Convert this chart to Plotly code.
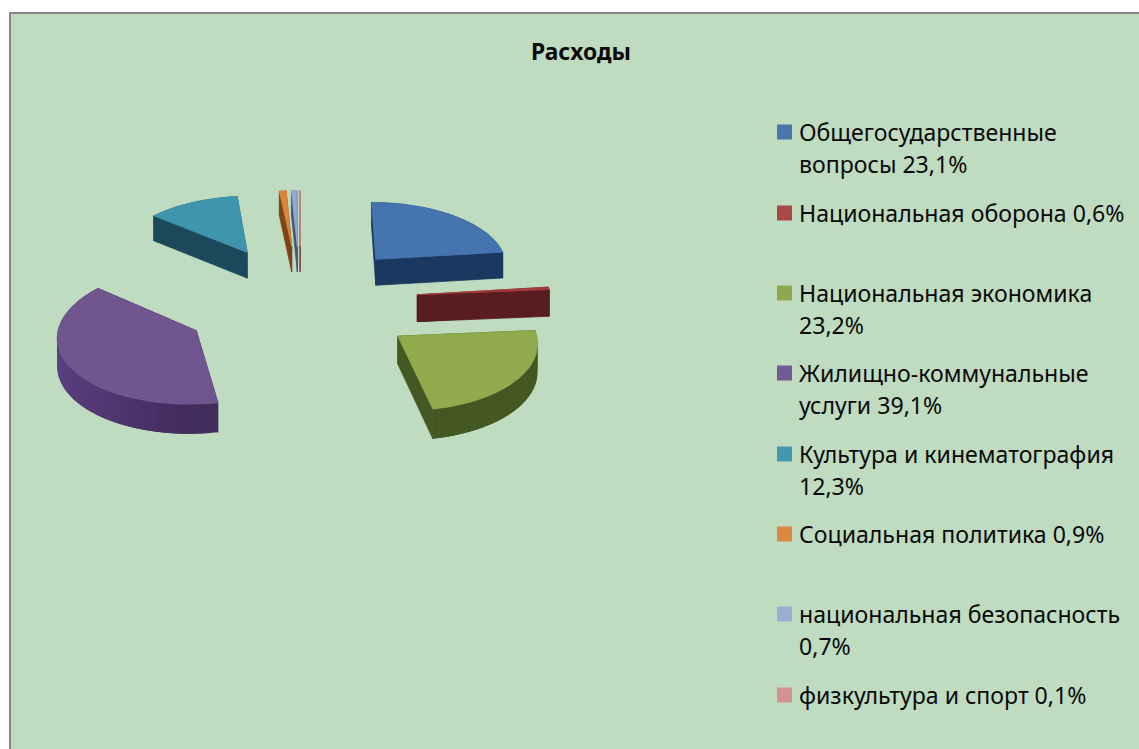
import numpy as np
import plotly.graph_objects as go

# ---- data ----
categories = ["Общегосударственные вопросы", "Национальная оборона", "Национальная экономика",
              "Жилищно-коммунальные услуги", "Культура и кинематография", "Социальная политика",
              "национальная безопасность", "физкультура и спорт"]
values = [23.1, 0.6, 23.2, 39.1, 12.3, 0.9, 0.7, 0.1]
legend_lines = [["Общегосударственные", "вопросы 23,1%"], ["Национальная оборона 0,6%"],
                ["Национальная экономика", "23,2%"], ["Жилищно-коммунальные", "услуги 39,1%"],
                ["Культура и кинематография", "12,3%"], ["Социальная политика 0,9%"],
                ["национальная безопасность", "0,7%"], ["физкультура и спорт 0,1%"]]
title_text = "Расходы"

# ---- style ----
top_colors = ["#4674ae", "#a83c3c", "#8fab4c", "#70558f", "#4095ae", "#d9853c", "#93a9d2", "#d49291"]
side_colors = ["#1b3860", "#591c20", "#435822", "#412d5c", "#1b485a", "#7c4518", "#46587a", "#7a4a4a"]
legend_colors = ["#4a76ab", "#ab4745", "#8fa84f", "#725a96", "#4298b0", "#dc8640", "#9badd1", "#d49291"]
legend_y = [132, 213, 293, 373, 454, 534, 614, 695]
BG = "#bfdbc0"
FONT = "Noto Sans"
FS = 23.1
LINE = 32

# perspective model of the exploded 3-D pie
CX, CY, HZ, D = 300.5, 300.5, -767, 2200
R, EXPL, H = 134.5, 118, 27


def project(X, Y, z=0.0):
    s = D / (D + np.asarray(Y, float))
    return CX + np.asarray(X, float) * s, HZ + (CY + z - HZ) * s


def shade(color, f):
    r, g, b = [int(color[i:i + 2], 16) for i in (1, 3, 5)]
    return "#%02x%02x%02x" % tuple(min(255, int(c * f)) for c in (r, g, b))


def poly(xs, ys, color, lw=0.8):
    return go.Scatter(x=list(xs) + [xs[0]], y=list(ys) + [ys[0]], mode="lines", fill="toself",
                      fillcolor=color, line=dict(color=color, width=lw), hoverinfo="skip", showlegend=False)


fig = go.Figure()
total = sum(values)
edges = np.concatenate([[0], np.cumsum(values)]) / total * 2 * np.pi
order = sorted(range(len(values)), key=lambda i: -np.cos((edges[i] + edges[i + 1]) / 2))
for i in order:
    a0, a1 = edges[i], edges[i + 1]
    m = (a0 + a1) / 2
    ax, ay = EXPL * np.sin(m), EXPL * np.cos(m)
    n = max(2, int(np.degrees(a1 - a0) / 3) + 1)
    th = np.linspace(a0, a1, n)
    X = ax + R * np.sin(th)
    Y = ay + R * np.cos(th)
    # outer wall, shaded by direction; each piece overlaps the next so no seams show
    tx, ty = project(X, Y)
    bx, by = project(X, Y, H)
    for k in range(n - 1):
        e = min(k + 2, n - 1)
        mid = (th[k] + th[k + 1]) / 2
        f = 1 + 0.42 * max(0.0, -np.sin(mid))
        col = shade(side_colors[i], f)
        fig.add_trace(poly([tx[k], tx[k + 1], tx[e], bx[e], bx[k + 1], bx[k]],
                           [ty[k], ty[k + 1], ty[e], by[e], by[k + 1], by[k]], col, lw=0))
    # radial walls
    for k in (0, -1):
        rx, ry = project([ax, X[k]], [ay, Y[k]])
        qx, qy = project([ax, X[k]], [ay, Y[k]], H)
        fig.add_trace(poly([rx[0], rx[1], qx[1], qx[0]], [ry[0], ry[1], qy[1], qy[0]], side_colors[i]))
    # top face
    px, py = project([ax], [ay])
    fig.add_trace(poly([px[0]] + list(tx), [py[0]] + list(ty), top_colors[i]))

# legend
annotations = []
for name, lines, col, y in zip(categories, legend_lines, legend_colors, legend_y):
    fig.add_trace(go.Scatter(x=[784.5], y=[y], mode="markers", name=name, showlegend=False,
                             marker=dict(symbol="square", size=15, color=col, line=dict(width=0))))
    for j, line in enumerate(lines):
        annotations.append(dict(x=797, y=y + j * LINE, text=line, showarrow=False, xanchor="left",
                                yanchor="middle", xref="x", yref="y",
                                font=dict(family=FONT, size=FS, color="#0a0a0a")))

fig.update_layout(
    width=1139, height=749, margin=dict(l=0, r=0, t=0, b=0), autosize=False,
    paper_bgcolor="white", plot_bgcolor="rgba(0,0,0,0)", showlegend=False,
    xaxis=dict(range=[0, 1139], visible=False, fixedrange=True),
    yaxis=dict(range=[749, 0], visible=False, fixedrange=True),
    title=dict(text="<b>" + title_text + "</b>", x=581 / 1139, y=1 - 52 / 749, xanchor="center", yanchor="middle",
               xref="paper", yref="paper", font=dict(family=FONT, size=22.8, color="#0a0a0a")),
    annotations=annotations,
    shapes=[dict(type="rect", xref="x", yref="y", x0=10, y0=13, x1=1145, y1=755, layer="below",
                 fillcolor=BG, line=dict(color="#868686", width=2))],
)
fig.write_html("out.html", config={"displayModeBar": False},
               post_script="document.body.style.margin='0';document.body.style.overflow='hidden';")
